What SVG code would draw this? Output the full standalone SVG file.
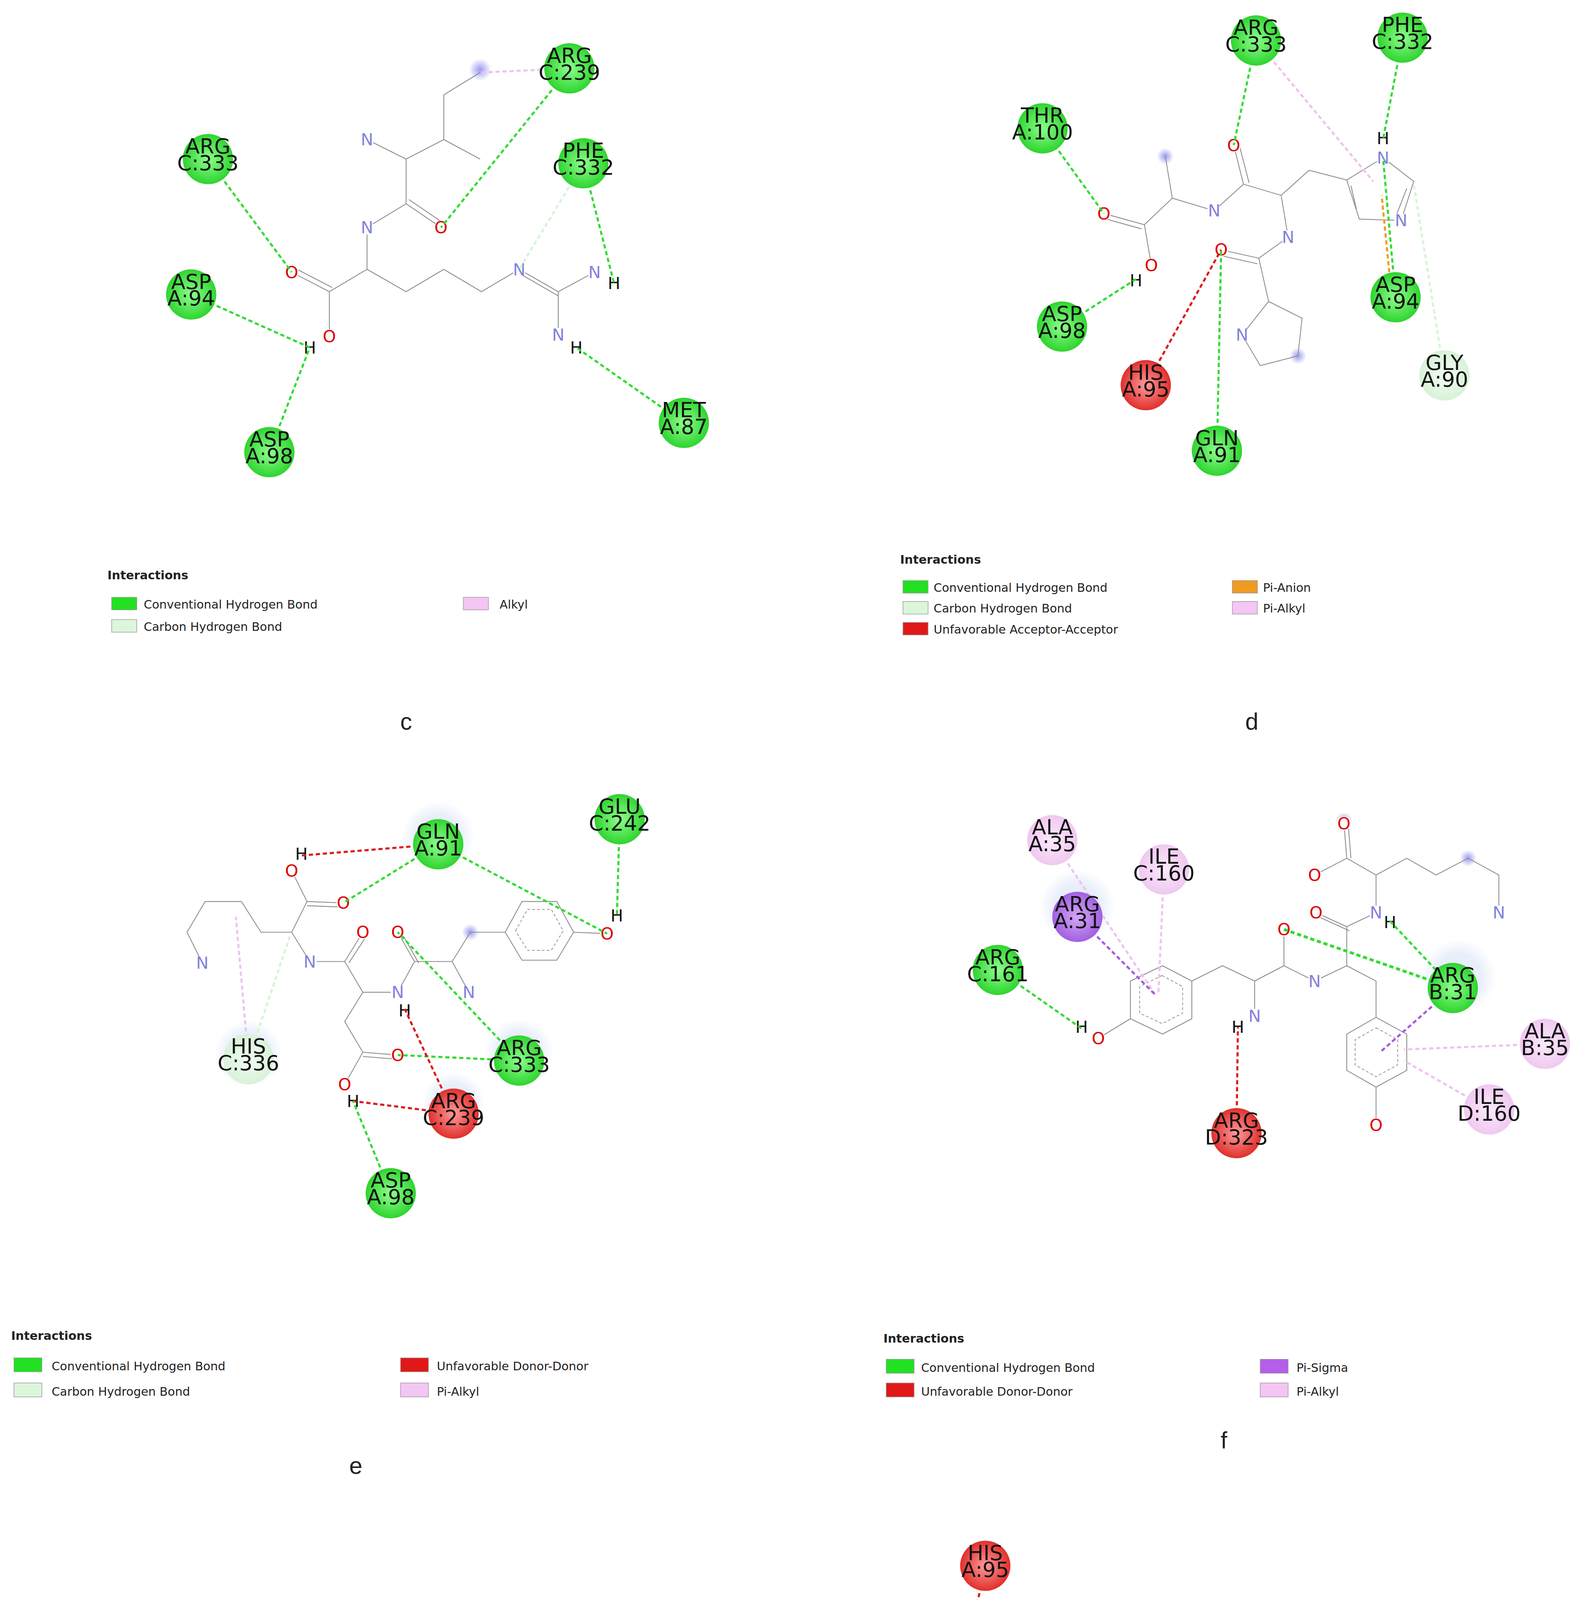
<svg xmlns="http://www.w3.org/2000/svg" width="4037" height="5624" viewBox="0 0 4037 5624">
<defs>
<radialGradient id="gG"><stop offset="0" stop-color="#8dff8d"/><stop offset="1" stop-color="#2fd42f"/></radialGradient>
<radialGradient id="gR"><stop offset="0" stop-color="#ff9a9a"/><stop offset="1" stop-color="#e0302c"/></radialGradient>
<radialGradient id="gL"><stop offset="0" stop-color="#f2fcf2"/><stop offset="1" stop-color="#d8f2d8"/></radialGradient>
<radialGradient id="gP"><stop offset="0" stop-color="#fbeafb"/><stop offset="1" stop-color="#efc8f0"/></radialGradient>
<radialGradient id="gV"><stop offset="0" stop-color="#d4a8f6"/><stop offset="1" stop-color="#a060e0"/></radialGradient>
<radialGradient id="gO"><stop offset="0" stop-color="#ffd080"/><stop offset="1" stop-color="#eb9a2a"/></radialGradient>
<radialGradient id="gB"><stop offset="0" stop-color="#9a9af0"/><stop offset="1" stop-color="#9a9af0" stop-opacity="0"/></radialGradient>
<radialGradient id="gH"><stop offset="0.6" stop-color="#e8eefa"/><stop offset="1" stop-color="#e8eefa" stop-opacity="0"/></radialGradient>
</defs>
<style>
.b{fill:none;stroke:#8c8c8c;stroke-width:0.6}
.ir{fill:none;stroke:#8c8c8c;stroke-width:0.5;stroke-dasharray:2 1.5}
.i line{stroke-width:1.5;stroke-dasharray:3 2;fill:none}
.hb{stroke:#2fdc2f}
.ch{stroke:#d6f4d6}
.al{stroke:#efc2ef}
.ua{stroke:#e01818}
.pa{stroke:#ef9b22}
.ps{stroke:#a45ae0}
.r{font-family:"DejaVu Sans",sans-serif;font-size:15px;fill:#111;text-anchor:middle}
.a{font-family:"DejaVu Sans",sans-serif;font-size:12px;text-anchor:middle;dominant-baseline:central}
.N{fill:#8282dc}.O{fill:#dc0000}.H{fill:#111}
.bg{fill:#fff}
.lt{font-family:"DejaVu Sans",sans-serif;font-size:8.5px;fill:#222}
.lh{font-family:"DejaVu Sans",sans-serif;font-size:8.5px;font-weight:bold;fill:#222}
.pl{font-family:"Liberation Sans",sans-serif;font-size:17px;fill:#222;text-anchor:middle}
.sw{stroke:#999;stroke-width:0.4}
</style>
<rect width="4037" height="5624" fill="#fff"/>
<g transform="scale(3.5726)">
<!-- halos and blobs -->
<g id="halos">
<circle cx="344" cy="50" r="8" fill="url(#gB)"/>
<circle cx="835" cy="112" r="6" fill="url(#gB)"/>
<circle cx="930" cy="255" r="6" fill="url(#gB)"/>
<circle cx="314" cy="600" r="26" fill="url(#gH)"/>
<circle cx="372" cy="755" r="25" fill="url(#gH)"/>
<circle cx="178" cy="755" r="24" fill="url(#gH)"/>
<circle cx="325" cy="790" r="22" fill="url(#gH)"/>
<circle cx="337" cy="668" r="6" fill="url(#gB)"/>
<circle cx="772" cy="650" r="27" fill="url(#gH)"/>
<circle cx="1045" cy="700" r="27" fill="url(#gH)"/>
<circle cx="963" cy="588" r="6" fill="url(#gB)"/>
<circle cx="1052" cy="615" r="6" fill="url(#gB)"/>
<circle cx="522" cy="1312" r="27" fill="url(#gH)"/>
<circle cx="705" cy="1343" r="22" fill="url(#gH)"/>
<circle cx="545" cy="1181" r="7" fill="url(#gB)"/>
</g>
<!-- molecules -->
<g id="mol-c">
<path class="b" d="M344,52 L318,68 L318,100 L344,114 M318,100 L291,114 L263,100 M291,114 L291,146 L316,163 M293,143 L318,160 M291,146 L263,163 L263,193 L236,209 L209,195 M238,206 L211,192 M236,209 L236,241 M263,193 L291,209 L318,193 L345,209 L372,193 L400,209 L426,195 M374,197 L400,212 M400,209 L400,240"/>
<g><circle class="bg" cx="263" cy="100" r="5"/><text class="a N" x="263" y="100">N</text>
<circle class="bg" cx="263" cy="163" r="5"/><text class="a N" x="263" y="163">N</text>
<circle class="bg" cx="316" cy="163" r="5"/><text class="a O" x="316" y="163">O</text>
<circle class="bg" cx="209" cy="195" r="5"/><text class="a O" x="209" y="195">O</text>
<circle class="bg" cx="236" cy="241" r="5"/><text class="a O" x="236" y="241">O</text>
<text class="a H" x="222" y="249">H</text>
<circle class="bg" cx="372" cy="193" r="5"/><text class="a N" x="372" y="193">N</text>
<circle class="bg" cx="426" cy="195" r="5"/><text class="a N" x="426" y="195">N</text>
<text class="a H" x="440" y="203">H</text>
<circle class="bg" cx="400" cy="240" r="5"/><text class="a N" x="400" y="240">N</text>
<text class="a H" x="413" y="249">H</text></g>
</g>
<g id="mol-d">
<path class="b" d="M835,112 L840,142 L870,151 L891,132 L918,140 L938,122 L965,129 L991,113 L1013,130 L1004,158 L974,157 L965,129 M972,150 L968,133 M1008,135 L1001,153 M891,132 L884,104 M895,131 L888,104 M918,140 L923,170 L902,185 L875,179 M901,189 L874,183 M902,185 L909,216 L890,240 L903,262 L930,255 L933,228 L909,216 M840,142 L820,161 L791,153 M818,164 L789,156 M820,161 L825,190"/>
<g><circle class="bg" cx="884" cy="104" r="5"/><text class="a O" x="884" y="104">O</text>
<circle class="bg" cx="870" cy="151" r="5"/><text class="a N" x="870" y="151">N</text>
<circle class="bg" cx="991" cy="113" r="5"/><text class="a N" x="991" y="113">N</text>
<text class="a H" x="991" y="99">H</text>
<circle class="bg" cx="1004" cy="158" r="5"/><text class="a N" x="1004" y="158">N</text>
<circle class="bg" cx="923" cy="170" r="5"/><text class="a N" x="923" y="170">N</text>
<circle class="bg" cx="875" cy="179" r="5"/><text class="a O" x="875" y="179">O</text>
<circle class="bg" cx="890" cy="240" r="5"/><text class="a N" x="890" y="240">N</text>
<circle class="bg" cx="791" cy="153" r="5"/><text class="a O" x="791" y="153">O</text>
<circle class="bg" cx="825" cy="190" r="5"/><text class="a O" x="825" y="190">O</text>
<text class="a H" x="814" y="201">H</text></g>
</g>
<g id="mol-e">
<path class="b" d="M209,624 L220,646 L246,647 M220,649 L246,650 M220,646 L209,668 L187,668 L173,646 L147,646 L134,668 L145,690 M209,668 L222,689 L247,689 L260,668 M250,690 L263,670 M247,689 L260,711 L285,711 L297,689 L285,668 M300,690 L288,669 M297,689 L324,689 L336,711 M324,689 L337,668 L362,668 L374,646 L399,646 L411,668 L399,688 L374,688 L362,668 M411,668 L435,669 M260,711 L247,732 L260,754 L285,756 M260,757 L285,759 M260,754 L247,777"/>
<polygon class="ir" points="369.4,667 378,651.6 395,651.6 403.6,667 395,681 378,681"/>
<g><circle class="bg" cx="209" cy="624" r="5"/><text class="a O" x="209" y="624">O</text>
<text class="a H" x="216" y="612">H</text>
<circle class="bg" cx="246" cy="647" r="5"/><text class="a O" x="246" y="647">O</text>
<circle class="bg" cx="145" cy="690" r="5"/><text class="a N" x="145" y="690">N</text>
<circle class="bg" cx="222" cy="689" r="5"/><text class="a N" x="222" y="689">N</text>
<circle class="bg" cx="260" cy="668" r="5"/><text class="a O" x="260" y="668">O</text>
<circle class="bg" cx="285" cy="711" r="5"/><text class="a N" x="285" y="711">N</text>
<text class="a H" x="290" y="724">H</text>
<circle class="bg" cx="285" cy="668" r="5"/><text class="a O" x="285" y="668">O</text>
<circle class="bg" cx="336" cy="711" r="5"/><text class="a N" x="336" y="711">N</text>
<circle class="bg" cx="285" cy="756" r="5"/><text class="a O" x="285" y="756">O</text>
<circle class="bg" cx="247" cy="777" r="5"/><text class="a O" x="247" y="777">O</text>
<text class="a H" x="253" y="789">H</text>
<circle class="bg" cx="435" cy="669" r="5"/><text class="a O" x="435" y="669">O</text>
<text class="a H" x="442" y="656">H</text></g>
</g>
<g id="mol-f">
<path class="b" d="M833,692 L854,703 L854,730 L833,741 L810,730 L810,703 Z M810,730 L787,744 M854,703 L876,692 L899,703 L899,728 M899,703 L920,692 L920,666 M920,692 L942,703 L965,692 L965,664 L943,654 M967,667 L945,657 M965,664 L986,654 L986,627 L965,615 L963,590 M968,615 L966,590 M965,615 L942,627 M986,627 L1008,615 L1029,627 L1052,615 L1074,627 L1074,654 M965,692 L986,703 L986,729 M986,729 L1008,741 L1008,767 L986,779 L965,767 L965,741 Z M986,779 L986,806"/>
<polygon class="ir" points="832.7,699 847.4,707 847.4,726 832.7,733.5 816.6,726 816.6,707"/>
<polygon class="ir" points="986,736.5 1001.5,745 1001.5,763 986,771.5 971,763 971,745"/>
<g><circle class="bg" cx="787" cy="744" r="5"/><text class="a O" x="787" y="744">O</text>
<text class="a H" x="775" y="736">H</text>
<circle class="bg" cx="899" cy="728" r="5"/><text class="a N" x="899" y="728">N</text>
<text class="a H" x="887" y="736">H</text>
<circle class="bg" cx="920" cy="666" r="5"/><text class="a O" x="920" y="666">O</text>
<circle class="bg" cx="942" cy="703" r="5"/><text class="a N" x="942" y="703">N</text>
<circle class="bg" cx="943" cy="654" r="5"/><text class="a O" x="943" y="654">O</text>
<circle class="bg" cx="986" cy="654" r="5"/><text class="a N" x="986" y="654">N</text>
<text class="a H" x="996" y="661">H</text>
<circle class="bg" cx="963" cy="590" r="5"/><text class="a O" x="963" y="590">O</text>
<circle class="bg" cx="942" cy="627" r="5"/><text class="a O" x="942" y="627">O</text>
<circle class="bg" cx="1074" cy="654" r="5"/><text class="a N" x="1074" y="654">N</text>
<circle class="bg" cx="986" cy="806" r="5"/><text class="a O" x="986" y="806">O</text></g>
</g>
<g id="mol-g">
<path class="b" d="M545,1181 L566,1192 L587,1181 L587,1157 M590,1181 L590,1157 M587,1181 L607,1192 L607,1217 L629,1228 L629,1252 M632,1228 L632,1252 M629,1228 L650,1217 L671,1228 L691,1217 L691,1192 M694,1217 L694,1192 M691,1217 L710,1228 M671,1228 L671,1252 L650,1263 M671,1252 L691,1263 M566,1192 L566,1218 L546,1228 M546,1228 L525,1217 L504,1228 L504,1252 L525,1263 L546,1252 Z M504,1252 L482,1264 M607,1217 L587,1228 L587,1252 M587,1252 L607,1263 L607,1287 L587,1298 L566,1287 L566,1263 Z M587,1298 L587,1325"/>
<polygon class="ir" points="539.7,1231.6 525,1224 510.3,1231.6 510.3,1248.4 525,1256 539.7,1248.4"/>
<polygon class="ir" points="587,1259 601,1266.6 601,1283.4 587,1291 572.3,1283.4 572.3,1266.6"/>
<g><text class="a N" x="545" y="1181">N</text>
<circle class="bg" cx="587" cy="1157" r="5"/><text class="a O" x="587" y="1157">O</text>
<circle class="bg" cx="607" cy="1192" r="5"/><text class="a N" x="607" y="1192">N</text>
<circle class="bg" cx="629" cy="1252" r="5"/><text class="a O" x="629" y="1252">O</text>
<circle class="bg" cx="650" cy="1217" r="5"/><text class="a N" x="650" y="1217">N</text>
<circle class="bg" cx="691" cy="1192" r="5"/><text class="a O" x="691" y="1192">O</text>
<circle class="bg" cx="710" cy="1228" r="5"/><text class="a O" x="710" y="1228">O</text>
<text class="a H" x="721" y="1222">H</text>
<circle class="bg" cx="482" cy="1264" r="5"/><text class="a O" x="482" y="1264">O</text>
<text class="a H" x="472" y="1257">H</text>
<circle class="bg" cx="587" cy="1325" r="5"/><text class="a O" x="587" y="1325">O</text></g>
</g>
<!-- connectors -->
<g id="connectors" class="i">
<line class="al" x1="408" y1="49" x2="344" y2="52"/>
<line class="hb" x1="408" y1="49" x2="316" y2="163"/>
<line class="hb" x1="149" y1="114" x2="209" y2="195"/>
<line class="hb" x1="137" y1="211" x2="222" y2="249"/>
<line class="hb" x1="193" y1="324" x2="222" y2="249"/>
<line class="ch" x1="418" y1="117" x2="372" y2="193"/>
<line class="hb" x1="418" y1="117" x2="440" y2="203"/>
<line class="hb" x1="490" y1="303" x2="413" y2="249"/>

<line class="hb" x1="747" y1="92" x2="791" y2="153"/>
<line class="hb" x1="900" y1="29" x2="884" y2="104"/>
<line class="al" x1="900" y1="29" x2="984" y2="130"/>
<line class="hb" x1="1005" y1="27" x2="991" y2="100"/>
<line class="hb" x1="1000" y1="213" x2="991" y2="113"/>
<line class="pa" x1="997" y1="210" x2="990" y2="140"/>
<line class="ch" x1="1035" y1="269" x2="1013" y2="132"/>
<line class="hb" x1="761" y1="234" x2="814" y2="200"/>
<line class="ua" x1="821" y1="276" x2="875" y2="179"/>
<line class="hb" x1="872" y1="323" x2="875" y2="179"/>

<line class="ua" x1="314" y1="605" x2="216" y2="613"/>
<line class="hb" x1="314" y1="605" x2="246" y2="647"/>
<line class="hb" x1="314" y1="605" x2="435" y2="669"/>
<line class="hb" x1="444" y1="587" x2="442" y2="657"/>
<line class="al" x1="178" y1="759" x2="169" y2="657"/>
<line class="ch" x1="178" y1="759" x2="208" y2="670"/>
<line class="hb" x1="372" y1="760" x2="285" y2="668"/>
<line class="hb" x1="372" y1="760" x2="285" y2="756"/>
<line class="ua" x1="325" y1="798" x2="290" y2="723"/>
<line class="ua" x1="325" y1="798" x2="253" y2="789"/>
<line class="hb" x1="280" y1="855" x2="253" y2="789"/>

<line class="al" x1="754" y1="602" x2="828" y2="713"/>
<line class="al" x1="834" y1="623" x2="830" y2="713"/>
<line class="ps" x1="772" y1="657" x2="828" y2="713"/>
<line class="hb" x1="715" y1="695" x2="775" y2="737"/>
<line class="hb" x1="920" y1="666" x2="1041" y2="708" style="stroke-width:2"/>
<line class="hb" x1="996" y1="660" x2="1041" y2="708"/>
<line class="ps" x1="1041" y1="708" x2="990" y2="753"/>
<line class="al" x1="1107" y1="748" x2="1006" y2="752"/>
<line class="al" x1="1067" y1="795" x2="1006" y2="760"/>
<line class="ua" x1="886" y1="812" x2="887" y2="736"/>

<line class="ua" x1="706" y1="1122" x2="691" y2="1192"/>
<line class="hb" x1="763" y1="1166" x2="691" y2="1192"/>
<line class="ua" x1="763" y1="1166" x2="721" y2="1223"/>
<line class="pa" x1="460" y1="1184" x2="520" y2="1238"/>
<line class="hb" x1="476" y1="1264" x2="493" y2="1357"/>
<line class="ua" x1="482" y1="1264" x2="525" y2="1321"/>
<line class="hb" x1="493" y1="1357" x2="587" y2="1325"/>
<line class="al" x1="530" y1="1311" x2="691" y2="1263"/>
<line class="al" x1="705" y1="1348" x2="691" y2="1263"/>
<line class="ps" x1="559" y1="1370" x2="586" y2="1280"/>
</g>
<!-- residues -->
<g id="c-ARG-C239"><circle cx="408" cy="49" r="18" fill="url(#gG)"/><text class="r" x="408" y="45">ARG</text><text class="r" x="408" y="57">C:239</text></g>
<g id="c-PHE-C332"><circle cx="418" cy="117" r="18" fill="url(#gG)"/><text class="r" x="418" y="113">PHE</text><text class="r" x="418" y="125">C:332</text></g>
<g id="c-ARG-C333"><circle cx="149" cy="114" r="18" fill="url(#gG)"/><text class="r" x="149" y="110">ARG</text><text class="r" x="149" y="122">C:333</text></g>
<g id="c-ASP-A94"><circle cx="137" cy="211" r="18" fill="url(#gG)"/><text class="r" x="137" y="207">ASP</text><text class="r" x="137" y="219">A:94</text></g>
<g id="c-ASP-A98"><circle cx="193" cy="324" r="18" fill="url(#gG)"/><text class="r" x="193" y="320">ASP</text><text class="r" x="193" y="332">A:98</text></g>
<g id="c-MET-A87"><circle cx="490" cy="303" r="18" fill="url(#gG)"/><text class="r" x="490" y="299">MET</text><text class="r" x="490" y="311">A:87</text></g>

<g id="d-ARG-C333"><circle cx="900" cy="29" r="18" fill="url(#gG)"/><text class="r" x="900" y="25">ARG</text><text class="r" x="900" y="37">C:333</text></g>
<g id="d-PHE-C332"><circle cx="1005" cy="27" r="18" fill="url(#gG)"/><text class="r" x="1005" y="23">PHE</text><text class="r" x="1005" y="35">C:332</text></g>
<g id="d-THR-A100"><circle cx="747" cy="92" r="18" fill="url(#gG)"/><text class="r" x="747" y="88">THR</text><text class="r" x="747" y="100">A:100</text></g>
<g id="d-ASP-A98"><circle cx="761" cy="234" r="18" fill="url(#gG)"/><text class="r" x="761" y="230">ASP</text><text class="r" x="761" y="242">A:98</text></g>
<g id="d-HIS-A95"><circle cx="821" cy="276" r="18" fill="url(#gR)"/><text class="r" x="821" y="272">HIS</text><text class="r" x="821" y="284">A:95</text></g>
<g id="d-GLN-A91"><circle cx="872" cy="323" r="18" fill="url(#gG)"/><text class="r" x="872" y="319">GLN</text><text class="r" x="872" y="331">A:91</text></g>
<g id="d-ASP-A94"><circle cx="1000" cy="213" r="18" fill="url(#gG)"/><text class="r" x="1000" y="209">ASP</text><text class="r" x="1000" y="221">A:94</text></g>
<g id="d-GLY-A90"><circle cx="1035" cy="269" r="18" fill="url(#gL)"/><text class="r" x="1035" y="265">GLY</text><text class="r" x="1035" y="277">A:90</text></g>

<g id="e-GLN-A91"><circle cx="314" cy="605" r="18" fill="url(#gG)"/><text class="r" x="314" y="601">GLN</text><text class="r" x="314" y="613">A:91</text></g>
<g id="e-GLU-C242"><circle cx="444" cy="587" r="18" fill="url(#gG)"/><text class="r" x="444" y="583">GLU</text><text class="r" x="444" y="595">C:242</text></g>
<g id="e-HIS-C336"><circle cx="178" cy="759" r="18" fill="url(#gL)"/><text class="r" x="178" y="755">HIS</text><text class="r" x="178" y="767">C:336</text></g>
<g id="e-ARG-C333"><circle cx="372" cy="760" r="18" fill="url(#gG)"/><text class="r" x="372" y="756">ARG</text><text class="r" x="372" y="768">C:333</text></g>
<g id="e-ARG-C239"><circle cx="325" cy="798" r="18" fill="url(#gR)"/><text class="r" x="325" y="794">ARG</text><text class="r" x="325" y="806">C:239</text></g>
<g id="e-ASP-A98"><circle cx="280" cy="855" r="18" fill="url(#gG)"/><text class="r" x="280" y="851">ASP</text><text class="r" x="280" y="863">A:98</text></g>

<g id="f-ALA-A35"><circle cx="754" cy="602" r="18" fill="url(#gP)"/><text class="r" x="754" y="598">ALA</text><text class="r" x="754" y="610">A:35</text></g>
<g id="f-ILE-C160"><circle cx="834" cy="623" r="18" fill="url(#gP)"/><text class="r" x="834" y="619">ILE</text><text class="r" x="834" y="631">C:160</text></g>
<g id="f-ARG-A31"><circle cx="772" cy="657" r="18" fill="url(#gV)"/><text class="r" x="772" y="653">ARG</text><text class="r" x="772" y="665">A:31</text></g>
<g id="f-ARG-C161"><circle cx="715" cy="695" r="18" fill="url(#gG)"/><text class="r" x="715" y="691">ARG</text><text class="r" x="715" y="703">C:161</text></g>
<g id="f-ARG-B31"><circle cx="1041" cy="708" r="18" fill="url(#gG)"/><text class="r" x="1041" y="704">ARG</text><text class="r" x="1041" y="716">B:31</text></g>
<g id="f-ALA-B35"><circle cx="1107" cy="748" r="18" fill="url(#gP)"/><text class="r" x="1107" y="744">ALA</text><text class="r" x="1107" y="756">B:35</text></g>
<g id="f-ILE-D160"><circle cx="1067" cy="795" r="18" fill="url(#gP)"/><text class="r" x="1067" y="791">ILE</text><text class="r" x="1067" y="803">D:160</text></g>
<g id="f-ARG-D323"><circle cx="886" cy="812" r="18" fill="url(#gR)"/><text class="r" x="886" y="808">ARG</text><text class="r" x="886" y="820">D:323</text></g>

<g id="g-HIS-A95"><circle cx="706" cy="1122" r="18" fill="url(#gR)"/><text class="r" x="706" y="1118">HIS</text><text class="r" x="706" y="1130">A:95</text></g>
<g id="g-GLN-A91"><circle cx="763" cy="1166" r="18" fill="url(#gG)"/><text class="r" x="763" y="1162">GLN</text><text class="r" x="763" y="1174">A:91</text></g>
<g id="g-GLU-A102"><circle cx="460" cy="1184" r="18" fill="url(#gO)"/><text class="r" x="460" y="1180">GLU</text><text class="r" x="460" y="1192">A:102</text></g>
<g id="g-ARG-C333"><circle cx="525" cy="1321" r="18" fill="url(#gR)"/><text class="r" x="525" y="1317">ARG</text><text class="r" x="525" y="1329">C:333</text></g>
<g id="g-ARG-C424"><circle cx="493" cy="1357" r="18" fill="url(#gG)"/><text class="r" x="493" y="1353">ARG</text><text class="r" x="493" y="1365">C:424</text></g>
<g id="g-LEU-C420"><circle cx="559" cy="1370" r="18" fill="url(#gV)"/><text class="r" x="559" y="1366">LEU</text><text class="r" x="559" y="1378">C:420</text></g>
<g id="g-HIS-C336"><circle cx="705" cy="1348" r="18" fill="url(#gP)"/><text class="r" x="705" y="1344">HIS</text><text class="r" x="705" y="1356">C:336</text></g>

<!-- legends -->
<g id="legend-c">
<text class="lh" x="77" y="415">Interactions</text>
<rect class="sw" x="80" y="428" width="18" height="9" fill="#22e022"/><text class="lt" x="103" y="436">Conventional Hydrogen Bond</text>
<rect class="sw" x="80" y="444" width="18" height="9" fill="#dcf6dc"/><text class="lt" x="103" y="452">Carbon Hydrogen Bond</text>
<rect class="sw" x="332" y="428" width="18" height="9" fill="#f3c6f3"/><text class="lt" x="358" y="436">Alkyl</text>
</g>
<g id="legend-d">
<text class="lh" x="645" y="404">Interactions</text>
<rect class="sw" x="647" y="416" width="18" height="9" fill="#22e022"/><text class="lt" x="669" y="424">Conventional Hydrogen Bond</text>
<rect class="sw" x="647" y="431" width="18" height="9" fill="#dcf6dc"/><text class="lt" x="669" y="439">Carbon Hydrogen Bond</text>
<rect class="sw" x="647" y="446" width="18" height="9" fill="#e01818"/><text class="lt" x="669" y="454">Unfavorable Acceptor-Acceptor</text>
<rect class="sw" x="883" y="416" width="18" height="9" fill="#ef9b22"/><text class="lt" x="905" y="424">Pi-Anion</text>
<rect class="sw" x="883" y="431" width="18" height="9" fill="#f3c6f3"/><text class="lt" x="905" y="439">Pi-Alkyl</text>
</g>
<g id="legend-e">
<text class="lh" x="8" y="960">Interactions</text>
<rect class="sw" x="10" y="973" width="20" height="10" fill="#22e022"/><text class="lt" x="37" y="982">Conventional Hydrogen Bond</text>
<rect class="sw" x="10" y="991" width="20" height="10" fill="#dcf6dc"/><text class="lt" x="37" y="1000">Carbon Hydrogen Bond</text>
<rect class="sw" x="287" y="973" width="20" height="10" fill="#e01818"/><text class="lt" x="313" y="982">Unfavorable Donor-Donor</text>
<rect class="sw" x="287" y="991" width="20" height="10" fill="#f3c6f3"/><text class="lt" x="313" y="1000">Pi-Alkyl</text>
</g>
<g id="legend-f">
<text class="lh" x="633" y="962">Interactions</text>
<rect class="sw" x="635" y="974" width="20" height="10" fill="#22e022"/><text class="lt" x="660" y="983">Conventional Hydrogen Bond</text>
<rect class="sw" x="635" y="991" width="20" height="10" fill="#e01818"/><text class="lt" x="660" y="1000">Unfavorable Donor-Donor</text>
<rect class="sw" x="903" y="974" width="20" height="10" fill="#b45eea"/><text class="lt" x="929" y="983">Pi-Sigma</text>
<rect class="sw" x="903" y="991" width="20" height="10" fill="#f3c6f3"/><text class="lt" x="929" y="1000">Pi-Alkyl</text>
</g>
<g id="legend-g">
<text class="lh" x="349" y="1458">Interactions</text>
<rect class="sw" x="352" y="1469" width="18" height="9" fill="#22e022"/><text class="lt" x="375" y="1477">Conventional Hydrogen Bond</text>
<rect class="sw" x="352" y="1485" width="18" height="9" fill="#e01818"/><text class="lt" x="375" y="1493">Unfavorable Donor-Donor</text>
<rect class="sw" x="352" y="1500" width="18" height="9" fill="#e01818"/><text class="lt" x="375" y="1508">Unfavorable Acceptor-Acceptor</text>
<rect class="sw" x="352" y="1516" width="18" height="9" fill="#ef9b22"/><text class="lt" x="375" y="1524">Pi-Anion</text>
<rect class="sw" x="596" y="1469" width="18" height="9" fill="#b45eea"/><text class="lt" x="622" y="1477">Pi-Sigma</text>
<rect class="sw" x="596" y="1485" width="18" height="9" fill="#f3c6f3"/><text class="lt" x="622" y="1493">Alkyl</text>
<rect class="sw" x="596" y="1500" width="18" height="9" fill="#f3c6f3"/><text class="lt" x="622" y="1508">Pi-Alkyl</text>
</g>
<g id="panel-labels">
<text class="pl" x="291" y="523">c</text>
<text class="pl" x="897" y="523">d</text>
<text class="pl" x="255" y="1056">e</text>
<text class="pl" x="877" y="1038">f</text>
<text class="pl" x="569" y="1554">g</text>
</g>
</g>
</svg>
